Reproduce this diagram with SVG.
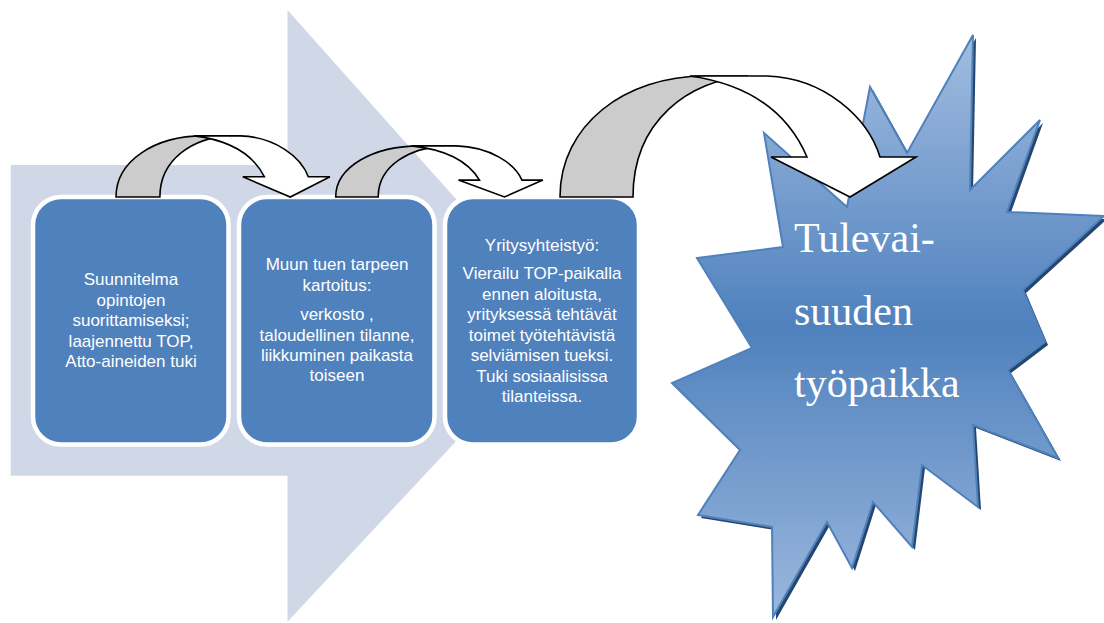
<svg xmlns="http://www.w3.org/2000/svg" xmlns:xlink="http://www.w3.org/1999/xlink" width="1104" height="623" viewBox="0 0 1104 623">
<style>
.bg{fill:#D0D8E8}
.box{fill:#4F81BD;stroke:#FFFFFF;stroke-width:4.5}
.bt{font-family:"Liberation Sans",Arial,sans-serif;font-size:17px;fill:#FFFFFF;text-anchor:middle}
.back{fill:#CCCCCC;stroke:#000000;stroke-width:1.6;vector-effect:non-scaling-stroke;stroke-linejoin:miter}
.front{fill:#FFFFFF;stroke:#000000;stroke-width:1.6;vector-effect:non-scaling-stroke;stroke-linejoin:miter}
.star{fill:url(#starGrad);stroke:#4F81BD;stroke-width:2;stroke-linejoin:miter}
.shadow{fill:#24466F}
.st{font-family:"Liberation Serif","Times New Roman",serif;font-size:42px;fill:#FFFFFF}
</style>
<defs>
<linearGradient id="starGrad" x1="0" y1="35" x2="0" y2="620" gradientUnits="userSpaceOnUse">
<stop offset="0" stop-color="#A2BDE0"/>
<stop offset="0.5" stop-color="#4F81BD"/>
<stop offset="1" stop-color="#9CB8DD"/>
</linearGradient>
<g id="curved">
<path class="back" d="M0,0 C0,-72 65,-121 145,-121 L188,-121 C130,-117 73,-77 73,0 Z"/>
<path class="front" d="M130,-121 L207,-121 C265,-119 308,-79 320,-40 L356,-40 L290,0 L211,-40 L247,-40 C232,-75 200,-111 130,-121 Z"/>
</g>
</defs>

<g id="background-arrow">
<polygon class="bg" points="10.7,165 287.5,165 287.5,10 566.5,323 287.5,621.7 287.5,475.7 10.7,475.7"/>
</g>

<g id="box1">
<rect class="box" x="33" y="197" width="195.5" height="247.5" rx="28" ry="28"/>
<text class="bt" x="131" y="285">Suunnitelma</text>
<text class="bt" x="131" y="305.5">opintojen</text>
<text class="bt" x="131" y="326">suorittamiseksi;</text>
<text class="bt" x="131" y="346.5">laajennettu TOP,</text>
<text class="bt" x="131" y="367">Atto-aineiden tuki</text>
</g>

<g id="box2">
<rect class="box" x="239" y="197" width="195.5" height="247.5" rx="28" ry="28"/>
<text class="bt" x="337" y="270">Muun tuen tarpeen</text>
<text class="bt" x="337" y="290.5">kartoitus:</text>
<text class="bt" x="337" y="320">verkosto ,</text>
<text class="bt" x="337" y="340.5">taloudellinen tilanne,</text>
<text class="bt" x="337" y="361">liikkuminen paikasta</text>
<text class="bt" x="337" y="381">toiseen</text>
</g>

<g id="box3">
<rect class="box" x="445" y="197" width="194" height="247.5" rx="28" ry="28"/>
<text class="bt" x="542" y="250.5">Yritysyhteistyö:</text>
<text class="bt" x="542" y="279.3">Vierailu TOP-paikalla</text>
<text class="bt" x="542" y="299.8">ennen aloitusta,</text>
<text class="bt" x="542" y="320.2">yrityksessä tehtävät</text>
<text class="bt" x="542" y="340.7">toimet työtehtävistä</text>
<text class="bt" x="542" y="361.1">selviämisen tueksi.</text>
<text class="bt" x="542" y="381.6">Tuki sosiaalisissa</text>
<text class="bt" x="542" y="402">tilanteissa.</text>
</g>

<g id="star-node">
<polygon class="shadow" transform="translate(3,3)" points="764,133 847,207 870,87 907,153 973,35 970,190 1040,120 1007,212 1104,216 1023,290 1045,342 1008,370 1058,458 973,425 978,507 922,465 912,547 873,502 852,568 827,522 773,617 772,527 698,515 740,450 672,383 752,348 697,258 783,247"/>
<polygon class="star" points="764,133 847,207 870,87 907,153 973,35 970,190 1040,120 1007,212 1104,216 1023,290 1045,342 1008,370 1058,458 973,425 978,507 922,465 912,547 873,502 852,568 827,522 773,617 772,527 698,515 740,450 672,383 752,348 697,258 783,247"/>
<text class="st" x="794" y="251.7">Tulevai-</text>
<text class="st" x="794" y="325">suuden</text>
<text class="st" x="794" y="397">työpaikka</text>
</g>

<g id="connectors">
<use xlink:href="#curved" href="#curved" transform="translate(116,197) scale(0.601,0.505)"/>
<use xlink:href="#curved" href="#curved" transform="translate(335.7,197) scale(0.582,0.4226)"/>
<use xlink:href="#curved" href="#curved" transform="translate(560,197)"/>
</g>
</svg>
